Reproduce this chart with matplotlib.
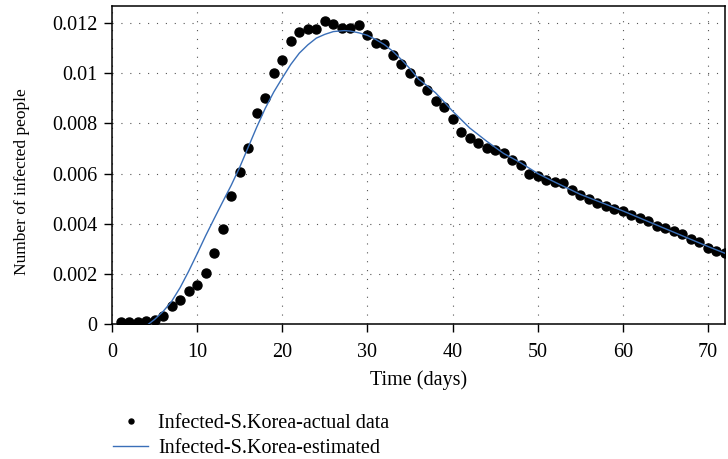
import matplotlib
matplotlib.use("Agg")
import matplotlib.pyplot as plt
from matplotlib.ticker import FixedLocator

# ---------------------------------------------------------------------------
# Data
# ---------------------------------------------------------------------------

actual_days = list(range(1, 73))
actual_infected = [
    0.00007, 0.00007, 0.00007, 0.00010, 0.00017, 0.00033, 0.00070, 0.00097,
    0.00133, 0.00156, 0.00203, 0.00285, 0.00378, 0.00510, 0.00606, 0.00703,
    0.00841, 0.00902, 0.01001, 0.01053, 0.01129, 0.01164, 0.01176, 0.01175,
    0.01208, 0.01196, 0.01180, 0.01179, 0.01191, 0.01154, 0.01122, 0.01115,
    0.01072, 0.01038, 0.00999, 0.00967, 0.00934, 0.00889, 0.00866, 0.00816,
    0.00765, 0.00743, 0.00723, 0.00702, 0.00692, 0.00683, 0.00652, 0.00635,
    0.00600, 0.00589, 0.00574, 0.00566, 0.00561, 0.00533, 0.00515, 0.00497,
    0.00481, 0.00471, 0.00460, 0.00452, 0.00435, 0.00424, 0.00410, 0.00391,
    0.00383, 0.00369, 0.00358, 0.00338, 0.00328, 0.00305, 0.00292, 0.00285,
]

est_days = [
    4.3, 5, 6, 7, 8, 9, 10, 11, 12, 13, 14, 15, 16, 17, 18, 19, 20, 21, 22,
    23, 24, 25, 26, 27.3, 28, 29, 30, 31, 32, 33, 34, 35, 36, 37, 38, 39, 40,
    42, 44, 46, 48, 50, 52, 55, 60, 65, 70, 72,
]
est_infected = [
    0.00000, 0.00018, 0.00050, 0.00090, 0.00145, 0.00210, 0.00280, 0.00352,
    0.00420, 0.00487, 0.00553, 0.00625, 0.00705, 0.00785, 0.00860, 0.00925,
    0.00981, 0.01035, 0.01080, 0.01113, 0.01140, 0.01155, 0.01166, 0.01170,
    0.01168, 0.01161, 0.01151, 0.01134, 0.01114, 0.01087, 0.01054, 0.01018,
    0.00977, 0.00950, 0.00922, 0.00886, 0.00849, 0.00782, 0.00729, 0.00680,
    0.00643, 0.00600, 0.00566, 0.00517, 0.00451, 0.00380, 0.00309, 0.00282,
]

x_ticks = [0, 10, 20, 30, 40, 50, 60, 70]
y_ticks = [0, 0.002, 0.004, 0.006, 0.008, 0.01, 0.012]
y_tick_labels = ["0", "0.002", "0.004", "0.006", "0.008", "0.01", "0.012"]

# ---------------------------------------------------------------------------
# Plot
# ---------------------------------------------------------------------------

plt.rcParams["font.family"] = ["Liberation Serif", "DejaVu Serif"]
plt.rcParams["font.size"] = 14

W, H = 728, 459
fig = plt.figure(figsize=(W / 100, H / 100), dpi=100)
ax = fig.add_axes([112 / W, 1 - 324 / H, (725 - 112) / W, (324 - 6) / H])

ax.plot(actual_days, actual_infected, "o", color="black", markersize=6.5,
        label="Infected-S.Korea-actual data", zorder=3)
ax.plot(est_days, est_infected, "-", color="#3a6fb8", linewidth=1.0,
        label="Infected-S.Korea-estimated", zorder=4)

ax.set_xlim(0, 72)
ax.set_ylim(0, 0.01268)
ax.xaxis.set_major_locator(FixedLocator(x_ticks))
ax.set_yticks(y_ticks)
ax.set_yticklabels(y_tick_labels)

ax.grid(True, color="#555555", linestyle=(0, (1, 7)), linewidth=0.8)
ax.tick_params(direction="out", length=5.5, width=1, labelsize=14.5)
ax.tick_params(axis="x", pad=8)
ax.tick_params(axis="y", pad=5)
for s in ax.spines.values():
    s.set_linewidth(1.1)

ax.set_xlabel("Time (days)", fontsize=14.5)
ax.xaxis.set_label_coords(0.5, -(380 - 324) / 318)
ax.xaxis.label.set_va("center")
ax.set_ylabel("Number of infected people", fontsize=12.5)
ax.yaxis.set_label_coords((22 - 112) / 613, 1 - (182 - 6) / 318)
ax.yaxis.label.set_va("center")

fig.legend(loc="upper left", bbox_to_anchor=(113 / W, 1 - 414 / H),
           frameon=False, fontsize=14.5, handlelength=1.75, handletextpad=0.5,
           labelspacing=0.3, borderaxespad=0, borderpad=0, markerscale=0.55)

fig.savefig("out.png", dpi=100)
